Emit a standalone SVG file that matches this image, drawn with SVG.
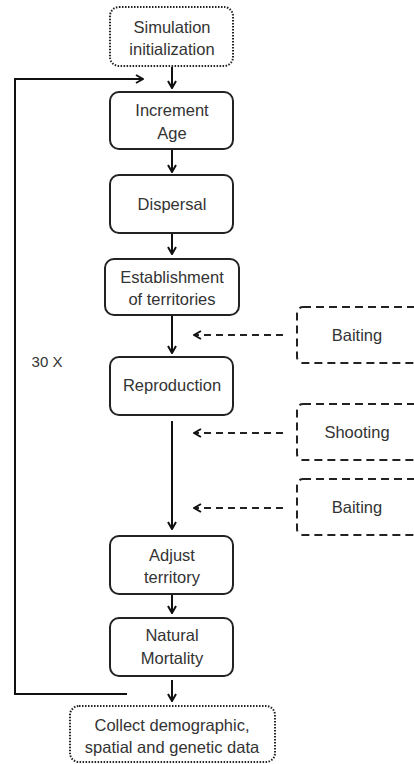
<svg xmlns="http://www.w3.org/2000/svg" width="414" height="764" viewBox="0 0 414 764">
<defs>
<marker id="ah" viewBox="0 0 10 10" refX="9" refY="5" markerWidth="10" markerHeight="10" markerUnits="userSpaceOnUse" orient="auto">
<path d="M2,1 L9,5 L2,9" fill="none" stroke="#111" stroke-width="2"/>
</marker>
</defs>
<style>
.box{fill:#fff;stroke:#222;stroke-width:2}
.dot{fill:#fff;stroke:#222;stroke-width:2;stroke-dasharray:1.5 1.5}
.dash{fill:#fff;stroke:#222;stroke-width:2;stroke-dasharray:8 5}
.t{font-family:"Liberation Sans",Arial,sans-serif;font-size:16.5px;fill:#333;text-anchor:middle}
.ln{fill:none;stroke:#111;stroke-width:2}
.dl{fill:none;stroke:#222;stroke-width:2;stroke-dasharray:7 5}
</style>
<g id="connectors">
<line class="ln" x1="172" y1="67" x2="172" y2="88" marker-end="url(#ah)"/>
<line class="ln" x1="172" y1="150" x2="172" y2="172" marker-end="url(#ah)"/>
<line class="ln" x1="172" y1="234" x2="172" y2="254" marker-end="url(#ah)"/>
<line class="ln" x1="172" y1="316" x2="172" y2="353" marker-end="url(#ah)"/>
<line class="ln" x1="172" y1="421" x2="172" y2="529" marker-end="url(#ah)"/>
<line class="ln" x1="172" y1="595" x2="172" y2="613" marker-end="url(#ah)"/>
<line class="ln" x1="172" y1="680" x2="172" y2="701" marker-end="url(#ah)"/>
<path class="ln" d="M127,694 H15 V79 H143" marker-end="url(#ah)"/>
<line class="dl" x1="283" y1="335" x2="194" y2="335" marker-end="url(#ah)"/>
<line class="dl" x1="283" y1="433" x2="194" y2="433" marker-end="url(#ah)"/>
<line class="dl" x1="283" y1="508" x2="194" y2="508" marker-end="url(#ah)"/>
</g>
<text class="t" x="47" y="367" style="font-size:15px">30 X</text>
<g id="init"><rect class="dot" x="110" y="7" width="123" height="59" rx="9"/><text class="t" x="172" y="33">Simulation</text><text class="t" x="172" y="55">initialization</text></g>
<g id="age"><rect class="box" x="110" y="92" width="123" height="57" rx="9"/><text class="t" x="172" y="116">Increment</text><text class="t" x="172" y="139">Age</text></g>
<g id="dispersal"><rect class="box" x="110" y="175" width="123" height="58" rx="9"/><text class="t" x="172" y="210">Dispersal</text></g>
<g id="establish"><rect class="box" x="105" y="259" width="134" height="56" rx="9"/><text class="t" x="172" y="283">Establishment</text><text class="t" x="172" y="305">of territories</text></g>
<g id="repro"><rect class="box" x="110" y="357" width="123" height="58" rx="9"/><text class="t" x="172" y="391">Reproduction</text></g>
<g id="adjust"><rect class="box" x="110" y="536" width="123" height="58" rx="9"/><text class="t" x="172" y="561">Adjust</text><text class="t" x="172" y="583">territory</text></g>
<g id="mortality"><rect class="box" x="110" y="618" width="123" height="58" rx="9"/><text class="t" x="172" y="641">Natural</text><text class="t" x="172" y="664">Mortality</text></g>
<g id="collect"><rect class="dot" x="70" y="706" width="205" height="56" rx="9"/><text class="t" x="172" y="731">Collect demographic,</text><text class="t" x="172" y="753">spatial and genetic data</text></g>
<g id="baiting1"><rect class="dash" x="297" y="307" width="140" height="56" rx="6"/><text class="t" x="357" y="341">Baiting</text></g>
<g id="shooting"><rect class="dash" x="297" y="404" width="140" height="56" rx="6"/><text class="t" x="357" y="438">Shooting</text></g>
<g id="baiting2"><rect class="dash" x="297" y="479" width="140" height="56" rx="6"/><text class="t" x="357" y="513">Baiting</text></g>
</svg>
